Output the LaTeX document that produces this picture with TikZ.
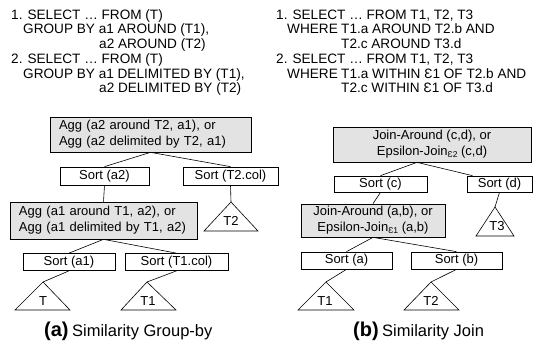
\documentclass[tikz,border=0pt]{standalone}
\usepackage{fontspec}
\setmainfont{Liberation Sans}
\newcommand\epsub[1]{\raisebox{-1.5pt}{\fontsize{8.5}{9}\selectfont #1}}
\begin{document}
\begin{tikzpicture}[x=1pt,y=-1pt,
  every node/.style={font=\fontsize{13}{16}\selectfont, inner sep=0pt},
  qline/.style={anchor=base west, font=\fontsize{13.6}{16}\selectfont},
  box/.style={draw, line width=0.7pt},
  graybox/.style={box, fill=black!11},
  edge/.style={line width=0.6pt},
  tri/.style={draw, line width=0.6pt, line join=miter},
]
\useasboundingbox (0,0) rectangle (533,342);
% ---------- queries (a)
\node[qline] (q1) at (11,19.5) {1. SELECT … FROM (T)};
\node[qline] (q2) at (23,34) {GROUP BY a1 AROUND (T1),};
\node[qline] (q3) at (99,48.5) {a2 AROUND (T2)};
\node[qline] (q4) at (11,64) {2. SELECT … FROM (T)};
\node[qline] (q5) at (23,78.5) {GROUP BY a1 DELIMITED BY (T1),};
\node[qline] (q6) at (99,93) {a2 DELIMITED BY (T2)};
% ---------- queries (b)
\node[qline] (r1) at (276,19.5) {1. SELECT … FROM T1, T2, T3};
\node[qline] (r2) at (287,34) {WHERE};
\node[qline] (r2b) at (341,34) {T1.a AROUND T2.b AND};
\node[qline] (r3) at (341,48.5) {T2.c AROUND T3.d};
\node[qline] (r4) at (276,64) {2. SELECT … FROM T1, T2, T3};
\node[qline] (r5) at (287,78.5) {WHERE};
\node[qline] (r5b) at (341,78.5) {T1.a WITHIN Ɛ1 OF T2.b AND};
\node[qline] (r6) at (341,93) {T2.c WITHIN Ɛ1 OF T3.d};
% ---------- tree (a)
\node[graybox, minimum width=201pt, minimum height=35pt, text width=183pt, align=left] (aggA) at (150.5,134.5)
  {Agg (a2 around T2, a1), or\\Agg (a2 delimited by T2, a1)};
\node[box, minimum width=89pt, minimum height=18pt] (sortA2) at (104.5,176) {Sort (a2)};
\node[box, minimum width=95pt, minimum height=18pt] (sortT2) at (230.5,176) {Sort (T2.col)};
\node[graybox, minimum width=187pt, minimum height=37pt, text width=169pt, align=left] (aggB) at (103.5,220.5)
  {Agg (a1 around T1, a2), or\\Agg (a1 delimited by T1, a2)};
\node[box, minimum width=92pt, minimum height=17pt] (sortA1) at (69,262) {Sort (a1)};
\node[box, minimum width=103pt, minimum height=17pt] (sortT1) at (176.5,262) {Sort (T1.col)};
\coordinate (apT) at (43,282);
\coordinate (apT1a) at (147,282);
\coordinate (apT2a) at (231,202);
\draw[tri] (apT) -- (15,310) -- (70,310) -- cycle;
\draw[tri] (apT1a) -- (121,310) -- (176,310) -- cycle;
\draw[tri] (apT2a) -- (204,231) -- (258,231) -- cycle;
\node (tT) at (43,301) {T};
\node (tT1a) at (148,301) {T1};
\node (tT2a) at (231,220.5) {T2};
\draw[edge] (aggA.south) -- (sortA2.north);
\draw[edge] (aggA.south) -- (sortT2.north);
\draw[edge] (sortA2.south) -- (aggB.north);
\draw[edge] (sortT2.south) -- (apT2a);
\draw[edge] (aggB.south) -- (sortA1.north);
\draw[edge] (aggB.south) -- (sortT1.north);
\draw[edge] (sortA1.south) -- (apT);
\draw[edge] (sortT1.south) -- (apT1a);
% ---------- tree (b)
\node[graybox, minimum width=198pt, minimum height=35pt, align=center] (joinCD) at (432,144.5)
  {Join-Around (c,d), or\\Epsilon-Join\epsub{Ɛ2} (c,d)};
\node[box, minimum width=93pt, minimum height=16pt] (sortC) at (380.5,184) {Sort (c)};
\node[box, minimum width=65pt, minimum height=16pt] (sortD) at (499.5,184) {Sort (d)};
\node[graybox, minimum width=144pt, minimum height=33pt, align=center] (joinAB) at (373,220.5)
  {Join-Around (a,b), or\\Epsilon-Join\epsub{Ɛ1} (a,b)};
\node[box, minimum width=91pt, minimum height=17pt] (sortA) at (346.5,260.5) {Sort (a)};
\node[box, minimum width=91pt, minimum height=17pt] (sortB) at (456.5,260.5) {Sort (b)};
\coordinate (apT1b) at (326,282);
\coordinate (apT2b) at (431,282);
\coordinate (apT3b) at (495,207);
\draw[tri] (apT1b) -- (298,310) -- (354,310) -- cycle;
\draw[tri] (apT2b) -- (404,310) -- (459,310) -- cycle;
\draw[tri] (apT3b) -- (476,236) -- (514,236) -- cycle;
\node (tT1b) at (325,301) {T1};
\node (tT2b) at (431,301) {T2};
\node (tT3b) at (497,226) {T3};
\draw[edge] ([xshift=-15pt]joinCD.south) -- (sortC.north);
\draw[edge] ([xshift=-15pt]joinCD.south) -- ([xshift=-27pt]sortD.north);
\draw[edge] (sortC.south) -- (joinAB.north);
\draw[edge] (sortD.south) -- (apT3b);
\draw[edge] (joinAB.south) -- (sortA.north);
\draw[edge] (joinAB.south) -- (sortB.north);
\draw[edge] (sortA.south) -- (apT1b);
\draw[edge] (sortB.south) -- (apT2b);
% ---------- captions
\node[anchor=base west] (capA) at (44,336)
  {{\fontsize{20}{22}\selectfont\bfseries (a)}\hspace{3.5pt}{\fontsize{16.5}{20}\selectfont Similarity Group-by}};
\node[anchor=base west] (capB) at (353,336)
  {{\fontsize{20}{22}\selectfont\bfseries (b)}\hspace{3.5pt}{\fontsize{16.5}{20}\selectfont Similarity Join}};
\end{tikzpicture}
\end{document}
